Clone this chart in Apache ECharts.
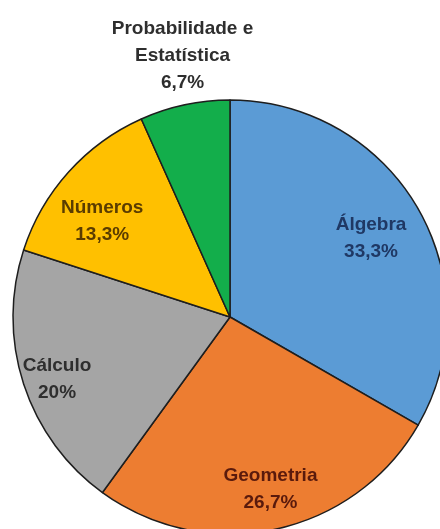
<!DOCTYPE html>
<html>
<head>
<meta charset="utf-8">
<script src="https://cdn.jsdelivr.net/npm/echarts@6/dist/echarts.min.js"></script>
<style>
html,body{margin:0;padding:0;background:#fff;}
#c{width:440px;height:529px;}
</style>
</head>
<body>
<div id="c"></div>
<script>
const categories = ['Álgebra', 'Geometria', 'Cálculo', 'Números', 'Probabilidade e\nEstatística'];
const values = [33.3, 26.7, 20, 13.3, 6.7];
const valueLabels = ['33,3%', '26,7%', '20%', '13,3%', '6,7%'];

const sliceColors = ['#5b9bd5', '#ed7d31', '#a5a5a5', '#ffc000', '#13ae4b'];
const labelColors = ['#1f3864', '#5a1a0c', '#2e2e2e', '#5a3c00', '#2e2e2e'];
const labelOffsets = [[-10, 9], [4, 2], [-7, 8], [2, 21], [-11, -91]];

const chart = echarts.init(document.getElementById('c'), null, {renderer: 'canvas'});
const center = [230, 317];
const R = 217;

const sliceData = categories.map((c, i) => ({
  name: c, value: values[i],
  itemStyle: {color: sliceColors[i]}
}));
const labelData = categories.map((c, i) => ({
  name: c, value: values[i],
  label: {
    color: labelColors[i],
    offset: labelOffsets[i],
    formatter: c + '\n' + valueLabels[i]
  }
}));

chart.setOption({
  backgroundColor: '#ffffff',
  animation: false,
  series: [
    {
      type: 'pie',
      center: center,
      radius: [0, R],
      startAngle: 90,
      clockwise: true,
      avoidLabelOverlap: false,
      silent: true,
      itemStyle: {borderColor: '#1e1e1e', borderWidth: 1.5},
      label: {show: false},
      labelLine: {show: false},
      data: sliceData
    },
    {
      type: 'pie',
      center: center,
      radius: [126, R],
      startAngle: 90,
      clockwise: true,
      avoidLabelOverlap: false,
      silent: true,
      itemStyle: {color: 'rgba(0,0,0,0)', borderWidth: 0},
      label: {
        show: true,
        position: 'inside',
        fontFamily: '"Liberation Sans", Arial, sans-serif',
        fontWeight: 'bold',
        fontSize: 19,
        lineHeight: 27,
        align: 'center'
      },
      labelLine: {show: false},
      data: labelData
    }
  ]
});
</script>
</body>
</html>
